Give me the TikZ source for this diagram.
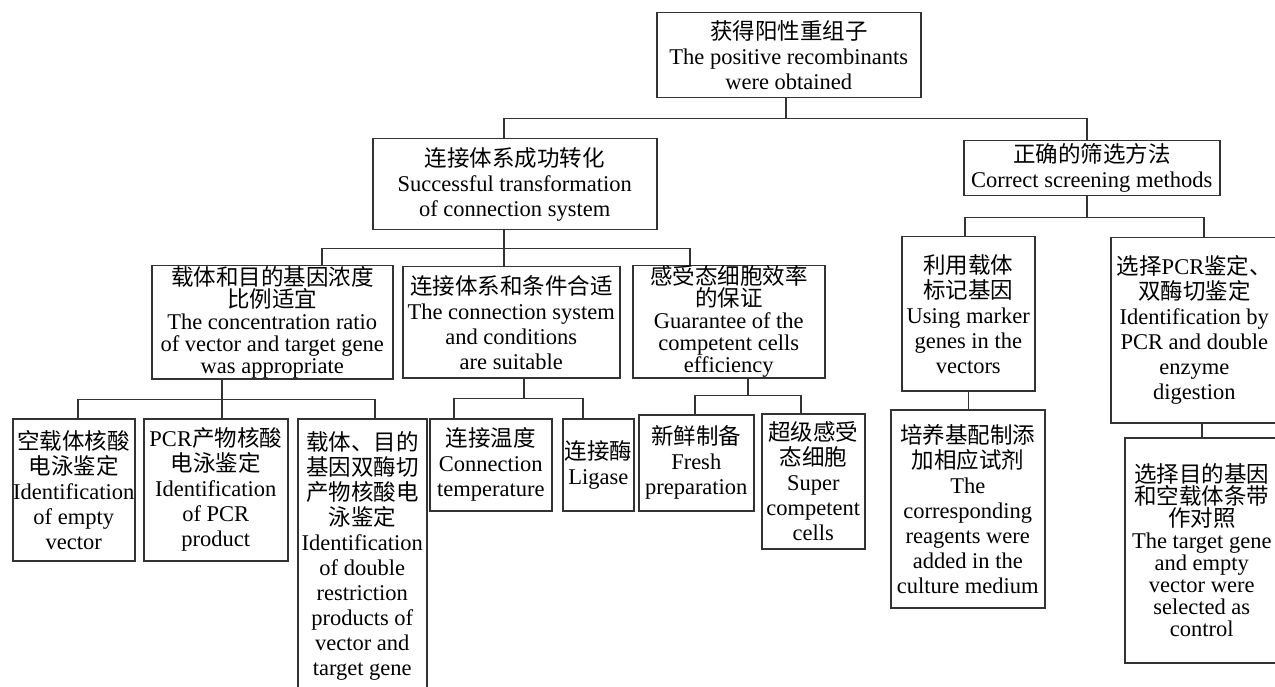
\documentclass[tikz,border=0pt]{standalone}
\usepackage{fontspec}
\setmainfont{Liberation Serif}
\newfontfamily\cjk{Noto Sans CJK SC}
\usetikzlibrary{positioning}

\begin{document}
\begin{tikzpicture}[x=1pt,y=-1pt,line width=1.5pt,draw=black!80,
  box node/.style={rectangle,draw=black!80,anchor=north west,align=center,inner sep=0pt,
    font=\fontsize{22.5}{25}\selectfont},
  tight node/.style={box node,font=\fontsize{22.5}{22}\selectfont}]
   \useasboundingbox (0,0) rectangle (1275,687);
   \clip (0,0) rectangle (1275,687);
   \node[box node,minimum width=264,minimum height=85] (g_0) at (656,12) {{\cjk 获得阳性重组子}\\The positive recombinants\\were obtained};
   \node[box node,minimum width=284,minimum height=91] (g_1) at (372,138) {{\cjk 连接体系成功转化}\\Successful transformation\\of connection system};
   \node[box node,minimum width=256,minimum height=55] (g_2) at (963,140) {{\cjk 正确的筛选方法}\\Correct screening methods};
   \node[tight node,minimum width=241,minimum height=113] (g_11) at (151,265) {{\cjk 载体和目的基因浓度}\\{\cjk 比例适宜}\\The concentration ratio\\of vector and target gene\\was appropriate};
   \node[box node,minimum width=217,minimum height=111] (g_12) at (402,266) {{\cjk 连接体系和条件合适}\\The connection system\\and conditions\\are suitable};
   \node[tight node,minimum width=192,minimum height=112] (g_13) at (632,265) {{\cjk 感受态细胞效率}\\{\cjk 的保证}\\Guarantee of the\\competent cells\\efficiency};
   \node[box node,minimum width=122,minimum height=142] (g_111) at (12,418) {{\cjk 空载体核酸}\\{\cjk 电泳鉴定}\\Identification\\of empty\\vector};
   \node[box node,minimum width=144,minimum height=142] (g_112) at (143,418) {PCR{\cjk 产物核酸}\\{\cjk 电泳鉴定}\\Identification\\of PCR\\product};
   \node[box node,minimum width=129,minimum height=274] (g_113) at (297,418) {{\cjk 载体、目的}\\{\cjk 基因双酶切}\\{\cjk 产物核酸电}\\{\cjk 泳鉴定}\\Identification\\of double\\restriction\\products of\\vector and\\target gene};
   \node[box node,minimum width=122,minimum height=92] (g_121) at (429,418) {{\cjk 连接温度}\\Connection\\temperature};
   \node[box node,minimum width=71,minimum height=92] (g_122) at (562,418) {{\cjk 连接酶}\\Ligase};
   \node[box node,minimum width=115,minimum height=96] (g_131) at (638,414) {{\cjk 新鲜制备}\\Fresh\\preparation};
   \node[box node,minimum width=103,minimum height=135] (g_132) at (761,413) {{\cjk 超级感受}\\{\cjk 态细胞}\\Super\\competent\\cells};
   \node[box node,minimum width=133,minimum height=154] (g_21) at (901,236) {{\cjk 利用载体}\\{\cjk 标记基因}\\Using marker\\genes in the\\vectors};
   \node[box node,minimum width=154,minimum height=198] (g_211) at (890,409) {{\cjk 培养基配制添}\\{\cjk 加相应试剂}\\The\\corresponding\\reagents were\\added in the\\culture medium};
   \node[box node,minimum width=167,minimum height=185] (g_22) at (1110,237) {{\cjk 选择}PCR{\cjk 鉴定、}\\{\cjk 双酶切鉴定}\\Identification by\\PCR and double\\enzyme\\digestion};
   \node[tight node,minimum width=154,minimum height=225] (g_221) at (1124,437) {{\cjk 选择目的基因}\\{\cjk 和空载体条带}\\{\cjk 作对照}\\The target gene\\and empty\\vector were\\selected as\\control};
   \foreach \c/\s in {g_1/-11,g_2/-5}
     \draw ([xshift=-3pt]g_0.south) -- ++(0,20) -| ([xshift=\s pt]\c.north);
   \foreach \c/\s in {g_11/49.5,g_12/-7.5,g_13/-39}
     \draw ([xshift=-11pt]g_1.south) -- ++(0,18) -| ([xshift=\s pt]\c.north);
   \foreach \c/\s in {g_111/4,g_112/6,g_113/12.5}
     \draw ([xshift=-50.5pt]g_11.south) -- ++(0,20) -| ([xshift=\s pt]\c.north);
   \foreach \c/\s in {g_121/-37,g_122/-15.5}
     \draw ([xshift=12.5pt]g_12.south) -- ++(0,20) -| ([xshift=\s pt]\c.north);
   \foreach \c/\s in {g_131/-1.5,g_132/-12.5}
     \draw ([xshift=19pt]g_13.south) -- ++(0,17) -| ([xshift=\s pt]\c.north);
   \foreach \c/\s in {g_21/-3.5,g_22/9.5}
     \draw ([xshift=-5pt]g_2.south) -- ++(0,21) -| ([xshift=\s pt]\c.north);
   \draw (g_21.south) -- (g_21.south |- g_211.north);
   \draw (g_221.north) -- (g_221.north |- g_22.south);
\end{tikzpicture}
\end{document}
